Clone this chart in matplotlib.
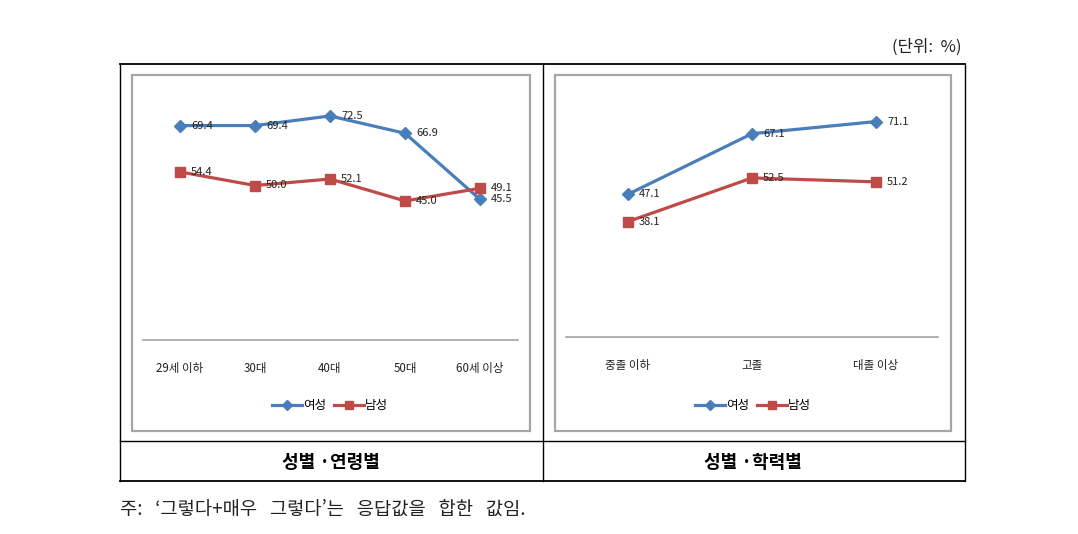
import matplotlib
matplotlib.use("Agg")
import matplotlib.pyplot as plt
from matplotlib.patches import Rectangle
from matplotlib.lines import Line2D

plt.rcParams['font.family'] = ['Noto Sans CJK KR', 'DejaVu Sans']

# 데이터
age_groups = ['29세 이하', '30대', '40대', '50대', '60세 이상']
age_female = [69.4, 69.4, 72.5, 66.9, 45.5]
age_male = [54.4, 50.0, 52.1, 45.0, 49.1]

edu_groups = ['중졸 이하', '고졸', '대졸 이상']
edu_female = [47.1, 67.1, 71.1]
edu_male = [38.1, 52.5, 51.2]

series_names = ['여성', '남성']
panel_titles = ['성별 ·연령별', '성별 ·학력별']
unit_text = '(단위:  %)'
note_text = '주: ‘그렇다+매우 그렇다’는 응답값을 합한 값임.'

W, H = 1078, 534
BLUE = '#4A7EBB'
RED = '#BE4B48'
GRAY = '#A6A6A6'

fig = plt.figure(figsize=(W / 100, H / 100), dpi=100)


def fx(x):
    return x / W


def fy(y):
    return 1 - y / H


def fig_line(x0, y0, x1, y1, lw=1.0, color='black'):
    fig.add_artist(Line2D([fx(x0), fx(x1)], [fy(y0), fy(y1)], transform=fig.transFigure,
                          color=color, lw=lw))


def draw_chart(left, right, base, scale, cats, female, male, legend_x):
    ymax = 80
    top = base - ymax * scale
    ax = fig.add_axes([fx(left), fy(base), fx(right) - fx(left), (base - top) / H])
    ax.patch.set_alpha(0)
    xs = list(range(len(cats)))
    ax.plot(xs, female, color=BLUE, lw=2.3, marker='D', ms=6.5, mec=BLUE, mfc=BLUE,
            label=series_names[0])
    ax.plot(xs, male, color=RED, lw=2.3, marker='s', ms=7, mec=RED, mfc=RED,
            label=series_names[1])
    for vals in (female, male):
        for x, v in zip(xs, vals):
            ax.annotate(f'{v:.1f}', (x, v), xytext=(11, 0), textcoords='offset pixels',
                        ha='left', va='center', fontsize=8, color='#222222')
    ax.set_xlim(-0.5, len(cats) - 0.5)
    ax.set_ylim(0, ymax)
    ax.set_yticks([])
    ax.set_xticks(xs)
    ax.set_xticklabels(cats, fontsize=8.3, color='#222222')
    ax.tick_params(axis='x', length=0, pad=16)
    for s in ('left', 'right', 'top'):
        ax.spines[s].set_visible(False)
    ax.spines['bottom'].set_color(GRAY)
    ax.spines['bottom'].set_linewidth(1.2)
    ax.legend(loc='center', bbox_to_anchor=(fx(legend_x), fy(406)),
              bbox_transform=fig.transFigure, ncol=2, frameon=False, fontsize=9,
              handlelength=2.4, handletextpad=0.1, columnspacing=0.6, markerscale=0.75)
    return ax


# 차트 테두리
for x0, x1 in ((132, 530), (555, 951)):
    fig.add_artist(Rectangle((fx(x0), fy(431)), fx(x1) - fx(x0), (431 - 75) / H,
                             transform=fig.transFigure, fill=False, ec=GRAY, lw=1.6))

draw_chart(142.5, 517.5, 340, 3.09, age_groups, age_female, age_male, 330)
draw_chart(566, 938, 337, 3.03, edu_groups, edu_female, edu_male, 753)

# 표 선
fig_line(120, 64, 965, 64, lw=1.3)
fig_line(120, 441, 965, 441, lw=1.0)
fig_line(120, 481, 965, 481, lw=1.3)
fig_line(120, 64, 120, 481, lw=1.0)
fig_line(965, 64, 965, 481, lw=1.0)
fig_line(542.5, 64, 542.5, 481, lw=1.0)

fig.text(fx(331), fy(462), panel_titles[0], ha='center', va='center', fontsize=13,
         fontweight='bold')
fig.text(fx(753), fy(462), panel_titles[1], ha='center', va='center', fontsize=13,
         fontweight='bold')
fig.text(fx(961), fy(47), unit_text, ha='right', va='center', fontsize=12,
         color='#222222')
fig.text(fx(120), fy(509), note_text.replace(' ', '   '), ha='left', va='center',
         fontsize=13.5, color='#222222')

fig.savefig('out.png', dpi=100)
